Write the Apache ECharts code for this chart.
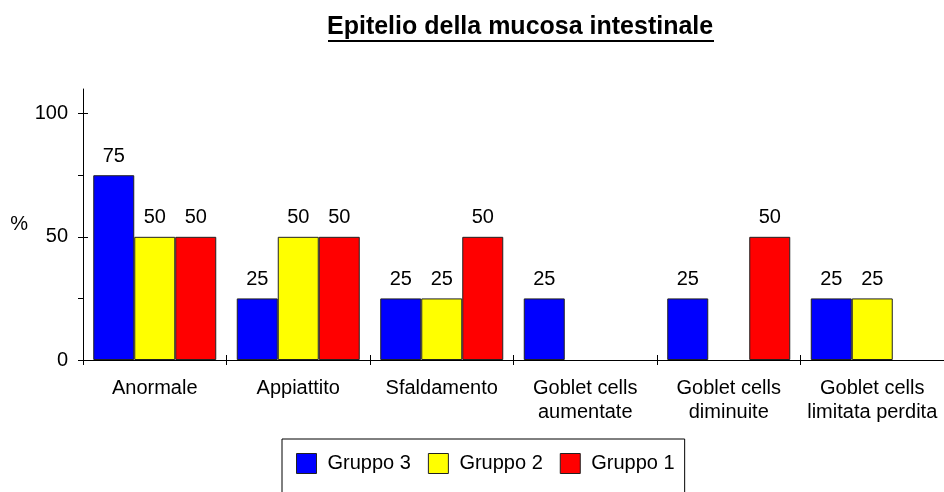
<!DOCTYPE html>
<html>
<head>
<meta charset="utf-8">
<script src="https://cdn.jsdelivr.net/npm/echarts@6/dist/echarts.min.js"></script>
<style>
  html, body { margin: 0; padding: 0; background: #fff; }
  #chart { width: 944px; height: 492px; }
</style>
</head>
<body>
<div id="chart"></div>
<script>
  // categorie e valori (%)
  var categories = ['Anormale', 'Appiattito', 'Sfaldamento', 'Goblet cells\naumentate', 'Goblet cells\ndiminuite', 'Goblet cells\nlimitata perdita'];
  var gruppo3 = [75, 25, 25, 25, 25, 25];
  var gruppo2 = [50, 50, 25, null, null, 25];
  var gruppo1 = [50, 50, 50, null, 50, null];
  var yTicks = [0, 25, 50, 75, 100];
  var yLabels = [0, 50, 100];

  var font = 'Liberation Sans, Arial, sans-serif';

  function barSeries(name, data, color) {
    return {
      name: name,
      type: 'bar',
      data: data,
      barWidth: 41,
      barGap: '0%',
      itemStyle: { color: color, borderColor: '#222', borderWidth: 1 },
      label: {
        show: true,
        position: 'top',
        distance: 9,
        color: '#000',
        fontFamily: font,
        fontSize: 20
      }
    };
  }

  var chart = echarts.init(document.getElementById('chart'));
  chart.setOption({
    animation: false,
    title: {
      text: 'Epitelio della mucosa intestinale',
      left: 327,
      top: 13,
      padding: 0,
      textStyle: { fontFamily: font, fontSize: 25, fontWeight: 'bold', color: '#000', lineHeight: 29 }
    },
    graphic: [
      // sottolineatura del titolo
      { type: 'rect', shape: { x: 328, y: 40, width: 386, height: 2 }, style: { fill: '#000' } }
    ],
    legend: {
      data: ['Gruppo 3', 'Gruppo 2', 'Gruppo 1'],
      left: 282,
      top: 439,
      padding: [14, 10, 40, 14],
      itemWidth: 20,
      itemHeight: 20,
      itemGap: 17,
      icon: 'rect',
      borderColor: '#000',
      borderWidth: 1,
      borderRadius: 0,
      itemStyle: { borderColor: '#222', borderWidth: 1 },
      textStyle: { fontFamily: font, fontSize: 20, color: '#000', padding: [0, 0, 0, 6] }
    },
    grid: { left: 83, right: 0, top: 89, bottom: 132 },
    xAxis: [{
      type: 'category',
      data: categories,
      axisLine: { lineStyle: { color: '#000', width: 1 } },
      axisTick: { show: true, length: 5, lineStyle: { color: '#000' } },
      axisLabel: { interval: 0, margin: 16, color: '#000', fontFamily: font, fontSize: 20, lineHeight: 24 }
    }, {
      type: 'category',
      data: categories,
      position: 'bottom',
      axisLine: { show: false },
      axisTick: { show: true, inside: true, length: 5, lineStyle: { color: '#000' } },
      axisLabel: { show: false }
    }],
    yAxis: [{
      type: 'value',
      min: 0,
      max: 110,
      name: '%',
      nameLocation: 'middle',
      nameRotate: 0,
      nameGap: 55,
      nameTextStyle: { fontFamily: font, fontSize: 20, color: '#000' },
      axisLine: { show: true, lineStyle: { color: '#000', width: 1 } },
      axisTick: { show: true, length: 5, customValues: yTicks, lineStyle: { color: '#000' } },
      axisLabel: { customValues: yLabels, margin: 15, color: '#000', fontFamily: font, fontSize: 20 },
      splitLine: { show: false }
    }, {
      type: 'value',
      min: 0,
      max: 110,
      position: 'left',
      axisLine: { show: false },
      axisTick: { show: true, inside: true, length: 5, customValues: yLabels, lineStyle: { color: '#000' } },
      axisLabel: { show: false },
      splitLine: { show: false }
    }],
    series: [
      barSeries('Gruppo 3', gruppo3, '#0000ff'),
      barSeries('Gruppo 2', gruppo2, '#ffff00'),
      barSeries('Gruppo 1', gruppo1, '#ff0000')
    ]
  });
</script>
</body>
</html>
